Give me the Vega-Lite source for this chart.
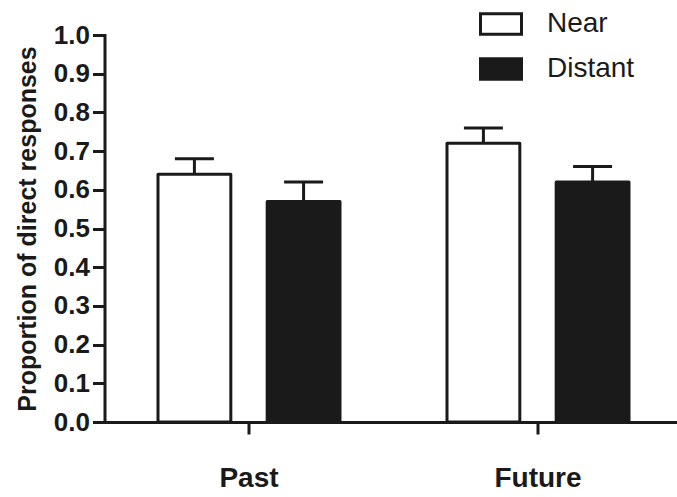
{
  "$schema": "https://vega.github.io/schema/vega-lite/v6.json",
  "width": 572,
  "height": 387,
  "autosize": {"type": "none"},
  "padding": {"left": 104.5, "top": 35, "right": 0, "bottom": 75},
  "background": "white",
  "config": {
    "font": "Liberation Sans",
    "view": {"stroke": null},
    "axis": {"grid": false, "domainColor": "#1a1a1a", "tickColor": "#1a1a1a", "labelColor": "#1a1a1a", "titleColor": "#1a1a1a", "domainWidth": 3, "tickWidth": 3, "tickSize": 12, "domainCap": "square", "labelOverlap": false},
    "axisY": {"tickCount": 20, "format": ".1f", "labelFontSize": 26, "labelFontWeight": "bold", "labelPadding": 3, "titleFontSize": 25, "titleFontWeight": "bold", "titlePadding": 13}
  },
  "data": {
    "values": [
      {"period": "Past", "cond": "Near", "value": 0.64, "upper": 0.68},
      {"period": "Past", "cond": "Distant", "value": 0.57, "upper": 0.62},
      {"period": "Future", "cond": "Near", "value": 0.72, "upper": 0.76},
      {"period": "Future", "cond": "Distant", "value": 0.62, "upper": 0.66}
    ]
  },
  "encoding": {
    "x": {
      "field": "period", "type": "nominal", "sort": ["Past", "Future"],
      "scale": {"range": [0, 578], "paddingInner": 0, "paddingOuter": 0},
      "axis": {"title": null, "labelAngle": 0, "labelFontSize": 28, "labelFontWeight": "bold", "labelPadding": 30}
    },
    "xOffset": {
      "field": "cond", "type": "nominal", "sort": ["Near", "Distant"],
      "scale": {"paddingInner": 0.333, "paddingOuter": 0.49}
    }
  },
  "layer": [
    {
      "mark": {"type": "bar", "stroke": "#1a1a1a", "strokeWidth": 3, "strokeJoin": "round"},
      "encoding": {
        "y": {
          "field": "value", "type": "quantitative",
          "scale": {"domain": [0, 1], "nice": false},
          "axis": {"title": "Proportion of direct responses", "values": [0, 0.1, 0.2, 0.3, 0.4, 0.5, 0.6, 0.7, 0.8, 0.9, 1.0], "tickCount": 20, "format": ".1f", "labelOverlap": false}
        },
        "fill": {
          "field": "cond", "type": "nominal",
          "scale": {"domain": ["Near", "Distant"], "range": ["white", "#1a1a1a"]},
          "legend": {
            "title": null, "orient": "none", "legendX": 374.5, "legendY": -33, "padding": 0,
            "symbolType": "M-1,-0.5H1V0.5H-1Z", "symbolSize": 1681,
            "symbolStrokeColor": "#1a1a1a", "symbolStrokeWidth": 3, "symbolOpacity": 1,
            "labelFontSize": 28, "labelColor": "#1a1a1a", "labelOffset": 24, "rowPadding": 6
          }
        }
      }
    },
    {
      "mark": {"type": "rule", "color": "#1a1a1a", "strokeWidth": 3},
      "encoding": {
        "y": {"field": "value", "type": "quantitative", "axis": {"title": "Proportion of direct responses", "values": [0, 0.1, 0.2, 0.3, 0.4, 0.5, 0.6, 0.7, 0.8, 0.9, 1.0], "tickCount": 20, "format": ".1f", "labelOverlap": false}},
        "y2": {"field": "upper"}
      }
    },
    {
      "mark": {"type": "tick", "color": "#1a1a1a", "size": 39, "thickness": 3, "opacity": 1},
      "encoding": {
        "y": {"field": "upper", "type": "quantitative", "axis": {"title": "Proportion of direct responses", "values": [0, 0.1, 0.2, 0.3, 0.4, 0.5, 0.6, 0.7, 0.8, 0.9, 1.0], "tickCount": 20, "format": ".1f", "labelOverlap": false}}
      }
    }
  ]
}
